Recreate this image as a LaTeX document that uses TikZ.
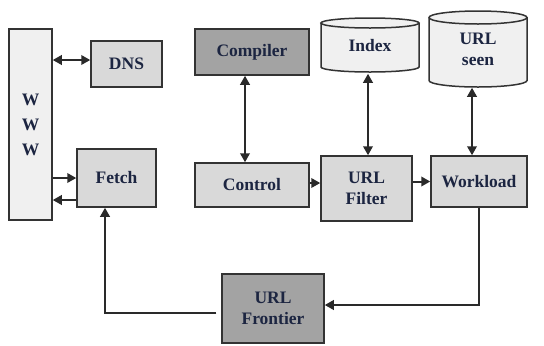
\documentclass[tikz,border=0pt]{standalone}
\usepackage{fontspec}
\setmainfont{Liberation Serif}
\usetikzlibrary{arrows.meta}
\definecolor{lightfill}{HTML}{F0F0F0}
\definecolor{midfill}{HTML}{D9D9D9}
\definecolor{darkfill}{HTML}{A3A3A3}
\definecolor{edge}{HTML}{333333}
\definecolor{linec}{HTML}{2A2A2A}
\definecolor{navy}{HTML}{1C2541}
\begin{document}
\begin{tikzpicture}[x=1bp,y=-1bp,
  box/.style={draw=edge,line width=1.5bp,rectangle,inner sep=0pt,align=center,
    font=\fontsize{17.5bp}{21bp}\selectfont\bfseries,text=navy},
  conn/.style={draw=linec,line width=2bp,-{Triangle[length=9bp,width=9.5bp]}},
  bconn/.style={draw=linec,line width=2bp,{Triangle[length=9bp,width=9.5bp]}-{Triangle[length=9bp,width=9.5bp]}},
  cylline/.style={draw=edge,line width=1.5bp}]
\useasboundingbox (0,0) rectangle (544,345);
\fill[white] (0,0) rectangle (544,345);

% cylinders
\fill[lightfill] (321,23) -- (321,67) arc[start angle=180,end angle=360,x radius=49bp,y radius=5bp] -- (419,23) arc[start angle=0,end angle=180,x radius=49bp,y radius=5bp] -- cycle;
\draw[cylline] (321,23) -- (321,67) arc[start angle=180,end angle=360,x radius=49bp,y radius=5bp] -- (419,23);
\draw[cylline] (370,23) ellipse[x radius=49bp,y radius=5bp];

\fill[lightfill] (429,17.5) -- (429,80.5) arc[start angle=180,end angle=360,x radius=49bp,y radius=6.5bp] -- (527,17.5) arc[start angle=0,end angle=180,x radius=49bp,y radius=6.5bp] -- cycle;
\draw[cylline] (429,17.5) -- (429,80.5) arc[start angle=180,end angle=360,x radius=49bp,y radius=6.5bp] -- (527,17.5);
\draw[cylline] (478,17.5) ellipse[x radius=49bp,y radius=6.5bp];

% nodes
\node[box,fill=lightfill,minimum width=43bp,minimum height=191bp,
  font=\fontsize{17.5bp}{25bp}\selectfont\bfseries] (www) at (30.5,124.5) {W\\W\\W};
\node[box,fill=midfill,minimum width=71bp,minimum height=46bp] (dns) at (126.5,64) {DNS};
\node[box,fill=midfill,minimum width=79bp,minimum height=58bp] (fetch) at (116.5,178) {Fetch};
\node[box,fill=darkfill,minimum width=114bp,minimum height=46bp] (compiler) at (252,52) {Compiler};
\node[box,fill=midfill,minimum width=114bp,minimum height=44bp] (control) at (252,185) {Control};
\node[box,fill=midfill,minimum width=91bp,minimum height=65bp] (filter) at (366.5,188.5) {URL\\Filter};
\node[box,fill=midfill,minimum width=96bp,minimum height=51bp] (workload) at (479,181.5) {Workload};
\node[box,fill=darkfill,minimum width=102bp,minimum height=69bp] (frontier) at (273,308.5) {URL\\Frontier};
\node[box,draw=none,minimum width=98bp,minimum height=54bp] (index) at (370,46) {Index};
\node[box,draw=none,minimum width=98bp,minimum height=76bp] (urlseen) at (478,49) {URL\\seen};

% connectors
\coordinate (dnsa) at ([yshift=4bp]dns.west);
\draw[bconn] (www.east |- dnsa) -- (dnsa);
\draw[conn] (www.east |- fetch.west) -- (fetch.west);
\coordinate (fb) at ([yshift=-22bp]fetch.west);
\draw[conn] (fb) -- (www.east |- fb);
\draw[bconn] ([xshift=-7bp]compiler.south) -- ([xshift=-7bp]control.north);
\draw[bconn] ([xshift=-2bp]index.south) -- ([xshift=-2bp]index.south |- filter.north);
\draw[bconn] ([xshift=-6bp]urlseen.south) -- ([xshift=-6bp]urlseen.south |- workload.north);
\coordinate (cf) at ([yshift=2bp]control.east);
\draw[conn] (cf) -- (cf -| filter.west);
\draw[conn] (workload.west -| filter.east) -- (workload.west);
\coordinate (fe) at ([yshift=3.5bp]frontier.east);
\draw[conn] (workload.south) |- (fe);
\coordinate (fw) at ([yshift=-4.5bp]frontier.west);
\draw[conn,shorten <=5bp] (fw) -| ([xshift=-11.5bp]fetch.south);
\end{tikzpicture}
\end{document}
